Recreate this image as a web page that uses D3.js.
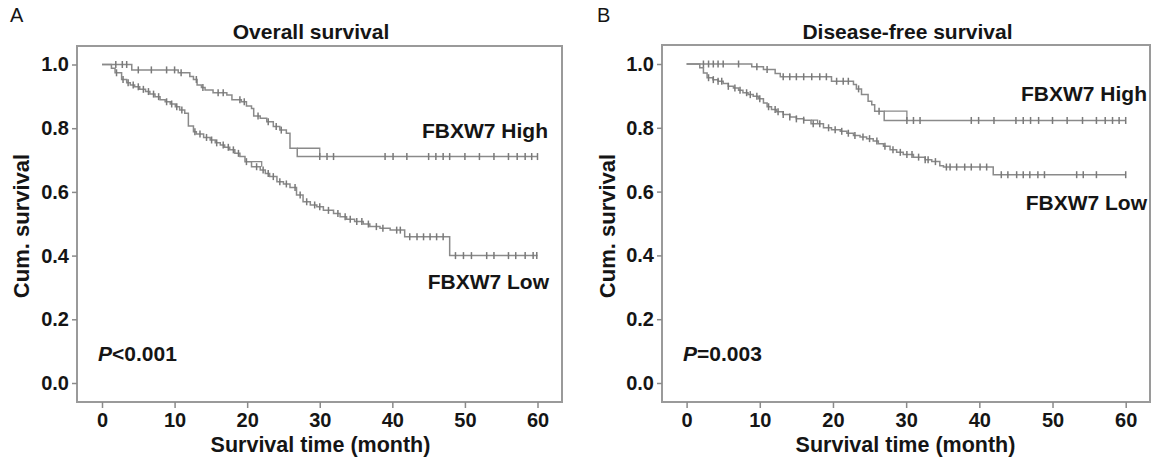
<!DOCTYPE html>
<html><head><meta charset="utf-8">
<script src="https://cdn.jsdelivr.net/npm/d3@7"></script>
<style>
html,body{margin:0;padding:0;background:#fff;}
svg{display:block;font-family:"Liberation Sans",Arial,sans-serif;}
</style></head>
<body>
<svg id="chart" width="1151" height="463"></svg>
<script>
// ---------- DATA ----------
const xTicks = [0, 10, 20, 30, 40, 50, 60];
const yTicks = [0, 0.2, 0.4, 0.6, 0.8, 1.0];
const panelLetters = ["A", "B"];
const panelTitles = ["Overall survival", "Disease-free survival"];
const xTitle = "Survival time (month)";
const yTitle = "Cum. survival";
const groupNames = ["FBXW7 High", "FBXW7 Low"];
const pTexts = [["P", "<0.001"], ["P", "=0.003"]];

// step events: [time (month), survival after event]
const osHighSteps = [[4.1,0.983],[10.5,0.974],[12.1,0.962],[12.6,0.953],[13.1,0.936],[13.7,0.928],[14.2,0.920],[15.3,0.911],[17.2,0.904],[17.9,0.889],[19.2,0.883],[19.9,0.870],[20.6,0.862],[20.9,0.838],[21.8,0.831],[22.7,0.820],[23.6,0.805],[24.5,0.794],[25.4,0.784],[25.9,0.737],[26.9,0.711]];
const osHighCensor = [1.9,2.8,3.4,5.0,6.8,8.9,10.0,10.9,13.0,13.9,16.0,16.7,19.0,19.6,21.5,22.9,24.0,24.7,30.0,31.0,31.9,39.0,40.1,42.0,45.0,46.0,47.0,47.9,50.0,52.0,54.0,56.0,57.2,58.3,59.2,60.0];
const osHighGhost = [26.9, 30.0, 0.737, 0.711];

const osLowSteps = [[1.3,0.988],[1.8,0.974],[2.7,0.953],[3.4,0.943],[3.9,0.936],[4.5,0.930],[5.2,0.922],[6.0,0.915],[6.6,0.907],[7.3,0.899],[8.0,0.889],[8.7,0.883],[9.4,0.876],[10.1,0.867],[10.7,0.857],[11.4,0.847],[11.9,0.807],[12.6,0.789],[13.0,0.782],[14.0,0.771],[14.9,0.763],[15.6,0.754],[16.3,0.747],[16.9,0.740],[17.6,0.732],[18.3,0.721],[19.0,0.711],[19.7,0.695],[20.6,0.679],[21.8,0.669],[22.5,0.658],[23.1,0.648],[24.1,0.632],[25.0,0.625],[25.9,0.614],[26.8,0.590],[27.7,0.569],[28.7,0.559],[29.6,0.553],[30.5,0.542],[31.9,0.532],[32.8,0.522],[33.7,0.514],[34.8,0.507],[36.0,0.499],[36.9,0.491],[38.3,0.486],[39.7,0.480],[41.7,0.459],[47.9,0.400]];
const osLowCensor = [2.0,2.9,3.6,4.3,5.0,5.7,6.4,7.1,7.8,8.9,9.6,10.3,11.0,12.8,13.5,14.4,15.1,15.8,16.7,17.4,18.1,18.8,19.9,21.3,22.2,22.9,23.6,24.5,25.4,26.6,27.3,28.2,29.3,30.0,31.2,32.5,33.5,34.2,35.1,35.8,36.7,37.8,38.7,40.6,41.1,42.4,43.4,44.3,45.2,46.1,47.0,48.7,49.8,50.9,53.0,54.0,56.0,57.0,58.3,59.4,59.9];
const osLowGhost = [20.6, 22.0, 0.695, 0.679];

const dfsHighSteps = [[8.9,0.991],[10.5,0.983],[12.1,0.970],[12.8,0.960],[19.8,0.946],[22.8,0.936],[23.2,0.922],[23.9,0.904],[24.8,0.883],[25.3,0.872],[25.7,0.852],[27.0,0.823]];
const dfsHighCensor = [2.3,3.0,3.65,4.3,5.0,7.1,9.6,11.0,13.2,14.1,15.0,16.0,17.1,18.2,19.1,20.5,21.4,22.1,23.5,26.3,30.1,31.0,31.9,38.9,39.9,42.0,45.0,46.0,47.0,48.1,50.0,52.0,54.1,56.0,57.2,58.2,59.1,60.0];
const dfsHighGhost = [27.0, 30.1, 0.852, 0.823];

const dfsLowSteps = [[1.8,0.988],[2.3,0.972],[2.8,0.957],[3.6,0.951],[4.3,0.946],[5.0,0.939],[5.7,0.930],[6.4,0.925],[7.1,0.918],[7.7,0.910],[8.4,0.904],[9.1,0.899],[9.8,0.891],[10.5,0.878],[11.0,0.866],[11.6,0.857],[12.3,0.850],[13.2,0.842],[14.1,0.834],[15.0,0.828],[16.0,0.824],[17.0,0.813],[18.7,0.800],[19.8,0.794],[21.0,0.789],[21.9,0.783],[22.8,0.776],[23.7,0.771],[24.6,0.766],[25.5,0.759],[26.2,0.750],[26.9,0.742],[27.8,0.731],[28.7,0.723],[29.6,0.716],[31.0,0.708],[32.6,0.700],[33.5,0.694],[34.6,0.681],[35.1,0.677],[41.9,0.653]];
const dfsLowCensor = [3.0,3.65,4.3,4.8,5.7,6.6,7.3,8.2,8.7,9.6,10.0,11.2,12.1,12.5,13.2,14.1,15.0,16.0,17.3,18.2,19.4,20.3,21.2,22.1,23.0,24.1,25.0,26.0,27.1,28.2,29.2,30.1,30.8,31.7,32.6,33.0,34.0,35.5,36.0,36.9,38.0,38.9,40.1,41.0,43.0,43.9,45.1,46.0,46.9,48.0,48.9,53.3,54.2,56.0,60.0];
const dfsLowGhost = [17.0, 17.9, 0.824, 0.813];

const endTime = 60;

// ---------- LAYOUT ----------
const panels = [
  { box:[77,46,562,402], xr:[102,537.5], yr:[383,64.5], letterX:10,
    titleX:311, xTitleX:320.5, yTitleX:29, yTitleY:226,
    labels:[{end:548,y:138},{end:549,y:289}], pX:98,
    curves:[{steps:osHighSteps,cens:osHighCensor,ghost:osHighGhost},{steps:osLowSteps,cens:osLowCensor,ghost:osLowGhost}] },
  { box:[662,45,1150,402], xr:[686.6,1125.7], yr:[383,64], letterX:597,
    titleX:907.5, xTitleX:905.5, yTitleX:615, yTitleY:226,
    labels:[{end:1147,y:101},{end:1147,y:210}], pX:683,
    curves:[{steps:dfsHighSteps,cens:dfsHighCensor,ghost:dfsHighGhost},{steps:dfsLowSteps,cens:dfsLowCensor,ghost:dfsLowGhost}] }
];

const svg = d3.select("#chart");
const lineColor = "#8a8a8a";
const boxColor = "#9a9a9a";
const txt = "#151515";

function survAt(steps, t) {
  let s = 1;
  for (const [ti, si] of steps) { if (ti <= t) s = si; else break; }
  return s;
}

panels.forEach((p, i) => {
  const g = svg.append("g");
  const x = d3.scaleLinear().domain([0, 60]).range(p.xr);
  const y = d3.scaleLinear().domain([0, 1]).range(p.yr);

  // box
  g.append("rect").attr("x", p.box[0]).attr("y", p.box[1])
    .attr("width", p.box[2]-p.box[0]).attr("height", p.box[3]-p.box[1])
    .attr("fill", "none").attr("stroke", boxColor).attr("stroke-width", 2);

  // axes
  const ya = g.append("g").attr("transform", `translate(${p.box[0]},0)`)
    .call(d3.axisLeft(y).tickValues(yTicks).tickFormat(d3.format(".1f")).tickSize(5).tickPadding(3));
  const xa = g.append("g").attr("transform", `translate(0,${p.box[3]})`)
    .call(d3.axisBottom(x).tickValues(xTicks).tickSize(6).tickPadding(5));
  [ya, xa].forEach(a => {
    a.select(".domain").remove();
    a.selectAll(".tick line").attr("stroke", lineColor).attr("stroke-width", 1.5);
    a.selectAll(".tick text").attr("fill", txt).style("font-size", "20px").style("font-weight", "bold");
  });

  // curves
  p.curves.forEach(c => {
    const pts = [[0, 1]];
    let s = 1;
    c.steps.forEach(([t, v]) => { pts.push([t, s]); pts.push([t, v]); s = v; });
    pts.push([endTime, s]);
    g.append("path").attr("d", d3.line().x(d => x(d[0])).y(d => y(d[1]))(pts))
      .attr("fill", "none").attr("stroke", lineColor).attr("stroke-width", 1.5);
    const gh = c.ghost;
    const gpts = [[gh[0], gh[2]], [gh[1], gh[2]], [gh[1], gh[3]]];
    g.append("path").attr("d", d3.line().x(d => x(d[0])).y(d => y(d[1]))(gpts))
      .attr("fill", "none").attr("stroke", lineColor).attr("stroke-width", 1.3);
    g.selectAll(null).data(c.cens).enter().append("line")
      .attr("x1", d => x(d)).attr("x2", d => x(d))
      .attr("y1", d => y(survAt(c.steps, d)) - 3.5).attr("y2", d => y(survAt(c.steps, d)) + 3.5)
      .attr("stroke", "#7a7a7a").attr("stroke-width", 1.5);
  });

  // texts
  g.append("text").attr("x", p.letterX).attr("y", 22).attr("fill", txt)
    .style("font-size", "20px").text(panelLetters[i]);
  g.append("text").attr("x", p.titleX).attr("y", 39).attr("text-anchor", "middle").attr("fill", txt)
    .style("font-size", "21px").style("font-weight", "bold").text(panelTitles[i]);
  g.append("text").attr("x", p.xTitleX).attr("y", 452).attr("text-anchor", "middle").attr("fill", txt)
    .style("font-size", "21.5px").style("font-weight", "bold").text(xTitle);
  g.append("text").attr("transform", `translate(${p.yTitleX},${p.yTitleY}) rotate(-90)`)
    .attr("text-anchor", "middle").attr("fill", txt)
    .style("font-size", "22px").style("font-weight", "bold").text(yTitle);
  p.labels.forEach((l, k) => {
    g.append("text").attr("x", l.end).attr("y", l.y).attr("text-anchor", "end").attr("fill", txt)
      .style("font-size", "21px").style("font-weight", "bold").text(groupNames[k]);
  });
  const pt = g.append("text").attr("x", p.pX).attr("y", 361).attr("fill", txt)
    .style("font-size", "21px").style("font-weight", "bold");
  pt.append("tspan").style("font-style", "italic").text(pTexts[i][0]);
  pt.append("tspan").text(pTexts[i][1]);
});
</script>
</body></html>
